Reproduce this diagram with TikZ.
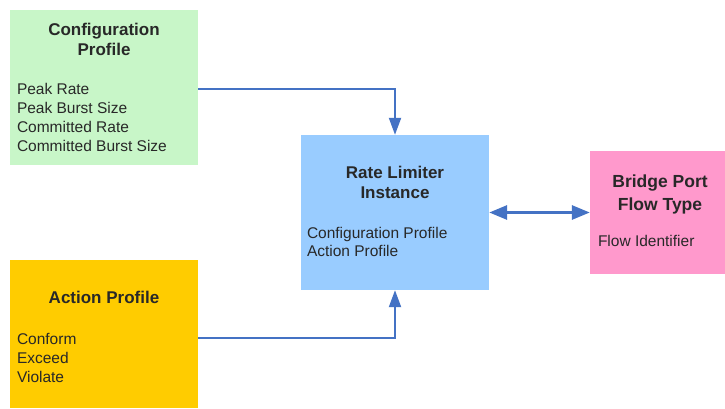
\documentclass[tikz,border=0pt]{standalone}
\usepackage{fontspec}
\setmainfont{Liberation Sans}
\usepackage{xcolor}
\definecolor{cfggreen}{RGB}{200,246,200}
\definecolor{actyellow}{RGB}{255,204,0}
\definecolor{rateblue}{RGB}{153,204,255}
\definecolor{portpink}{RGB}{255,153,204}
\definecolor{arrblue}{RGB}{68,114,196}
\definecolor{txtgray}{RGB}{40,40,40}
\usetikzlibrary{arrows.meta,positioning}

\begin{document}
\begin{tikzpicture}[x=1pt, y=1pt,
    profbox/.style={draw=none, inner sep=0pt, minimum width=188pt},
    ttl/.style={inner sep=0pt, align=center, font=\bfseries\fontsize{17}{20}\selectfont, text=txtgray},
    lst/.style={inner sep=0pt, align=left, font=\fontsize{15.5}{19}\selectfont, text=txtgray},
    arr/.style={-{Triangle[length=17pt,width=12pt]}, line width=2pt, arrblue},
    dblarr/.style={{Triangle[length=18pt,width=14pt]}-{Triangle[length=18pt,width=14pt]}, line width=3pt, arrblue}
  ]
  \useasboundingbox[fill=white] (0,0) rectangle (725,408);
  % boxes
  \node[profbox, fill=cfggreen, minimum height=155pt] (cfg) at (104,320.5) {};
  \node[profbox, fill=actyellow, minimum height=148pt] (act) at (104,74) {};
  \node[profbox, fill=rateblue, minimum height=155pt] (rate) at (395,195.5) {};
  \node[profbox, fill=portpink, minimum width=140pt, minimum height=123pt] (port) at (660,195.5) {};
  % texts
  \node[ttl, below=13.5pt of cfg.north] (cfgttl) {Configuration\\Profile};
  \node[lst, below right=73pt and 7pt of cfg.north west] (cfglst)
    {Peak Rate\\Peak Burst Size\\Committed Rate\\Committed Burst Size};
  \node[ttl, below=31.5pt of act.north] (actttl) {Action Profile};
  \node[lst, below right=73pt and 7pt of act.north west] (actlst)
    {Conform\\Exceed\\Violate};
  \node[ttl, below=31.5pt of rate.north] (ratettl) {Rate Limiter\\Instance};
  \node[lst, below right=92pt and 6pt of rate.north west] (ratelst)
    {Configuration Profile\\[-1pt]Action Profile};
  \node[ttl, below=23.5pt of port.north, font=\bfseries\fontsize{17.5}{23}\selectfont] (portttl)
    {Bridge Port\\Flow Type};
  \node[lst, below right=84pt and 8pt of port.north west] (portlst) {Flow Identifier};
  % connectors
  \draw[arr] ([yshift=-1.5pt]cfg.east) -| (rate.north);
  \draw[arr] ([yshift=-4pt]act.east) -| (rate.south);
  \draw[dblarr] (rate.east) -- (port.west);
\end{tikzpicture}
\end{document}
